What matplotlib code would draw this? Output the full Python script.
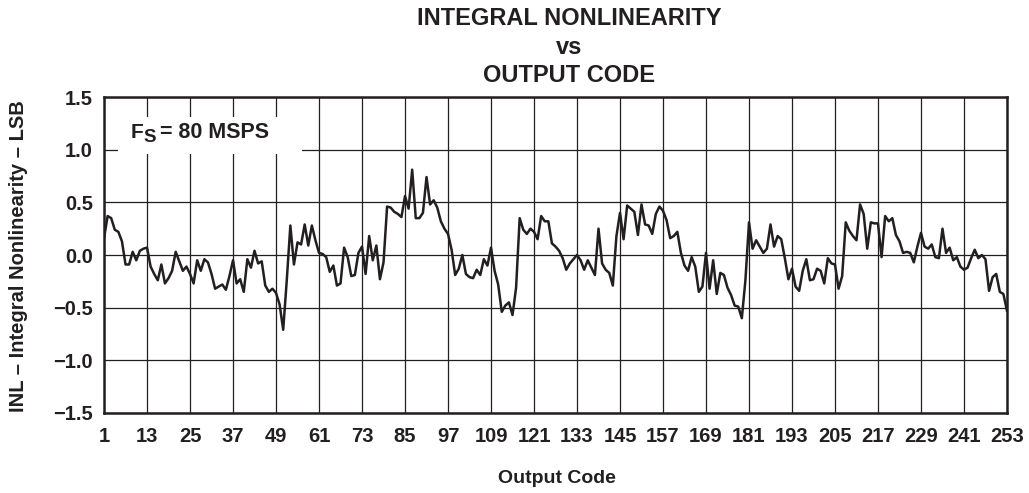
import matplotlib
matplotlib.use("Agg")
import matplotlib.pyplot as plt
from matplotlib.patches import Rectangle
import numpy as np

plt.rcParams['font.family'] = ['Liberation Sans', 'DejaVu Sans']
plt.rcParams['font.weight'] = 'bold'

# codigos de salida 1..253 y su INL (LSB)
codes = np.arange(1, 254)
inl = [
    0.16, 0.37, 0.35, 0.24, 0.22, 0.13, -0.09, -0.09, 0.03, -0.05,
    0.04, 0.06, 0.07, -0.11, -0.18, -0.24, -0.09, -0.27, -0.22, -0.15,
    0.03, -0.06, -0.15, -0.11, -0.18, -0.27, -0.05, -0.15, -0.04, -0.07,
    -0.18, -0.32, -0.30, -0.28, -0.33, -0.20, -0.05, -0.27, -0.23, -0.35,
    -0.04, -0.12, 0.04, -0.08, -0.06, -0.29, -0.35, -0.32, -0.36, -0.47,
    -0.71, -0.24, 0.28, -0.09, 0.12, 0.10, 0.29, 0.09, 0.28, 0.14,
    0.02, 0.01, -0.02, -0.16, -0.10, -0.29, -0.27, 0.07, -0.02, -0.20,
    -0.19, 0.02, 0.08, -0.18, 0.18, -0.05, 0.09, -0.23, -0.07, 0.46,
    0.45, 0.41, 0.39, 0.36, 0.56, 0.44, 0.81, 0.35, 0.35, 0.40,
    0.74, 0.48, 0.52, 0.45, 0.32, 0.25, 0.20, 0.05, -0.19, -0.13,
    0.00, -0.18, -0.21, -0.22, -0.14, -0.19, -0.04, -0.10, 0.07, -0.15,
    -0.28, -0.54, -0.48, -0.45, -0.57, -0.31, 0.35, 0.24, 0.20, 0.25,
    0.22, 0.15, 0.37, 0.32, 0.32, 0.11, 0.08, 0.04, -0.03, -0.14,
    -0.08, -0.04, 0.00, -0.05, -0.14, -0.05, -0.12, -0.19, 0.25, -0.08,
    -0.14, -0.17, -0.29, 0.18, 0.40, 0.15, 0.47, 0.44, 0.41, 0.19,
    0.48, 0.29, 0.28, 0.20, 0.39, 0.46, 0.42, 0.33, 0.16, 0.18,
    0.22, 0.02, -0.10, -0.15, -0.02, -0.11, -0.35, -0.30, 0.02, -0.32,
    -0.05, -0.37, -0.17, -0.19, -0.31, -0.38, -0.48, -0.49, -0.60, -0.24,
    0.31, 0.06, 0.14, 0.08, 0.02, 0.06, 0.29, 0.08, 0.18, 0.15,
    -0.03, -0.23, -0.13, -0.30, -0.34, -0.15, -0.04, -0.24, -0.23, -0.13,
    -0.15, -0.27, -0.03, -0.08, -0.09, -0.32, -0.20, 0.31, 0.23, 0.18,
    0.14, 0.48, 0.39, 0.06, 0.31, 0.30, 0.30, -0.02, 0.37, 0.32,
    0.35, 0.19, 0.13, 0.02, 0.03, 0.02, -0.07, 0.08, 0.21, 0.08,
    0.06, 0.10, -0.02, -0.03, 0.25, 0.02, 0.07, -0.05, -0.02, -0.11,
    -0.14, -0.12, -0.03, 0.05, -0.03, 0.00, -0.04, -0.34, -0.21, -0.18,
    -0.35, -0.37, -0.53,
]

xticks = list(range(1, 254, 12))
yticks = [-1.5, -1.0, -0.5, 0.0, 0.5, 1.0, 1.5]
ytick_labels = ["\u22121.5", "\u22121.0", "\u22120.5", "0.0", "0.5", "1.0", "1.5"]

ink = "#231f20"

fig = plt.figure(figsize=(10.29, 4.93), dpi=100)
ax = fig.add_axes([0.1011, 0.1623, 0.8775, 0.6409])

ax.plot(codes, inl, color=ink, lw=1.8, zorder=3)

ax.set_xlim(1, 253)
ax.set_ylim(-1.5, 1.5)
ax.set_xticks(xticks)
ax.set_yticks(yticks)
ax.set_yticklabels(ytick_labels)
ax.tick_params(length=0, labelsize=14.5, colors=ink)
ax.tick_params(axis="y", pad=8)
ax.tick_params(axis="x", pad=10)
for lab in ax.get_xticklabels() + ax.get_yticklabels():
    lab.set_fontweight("bold")
ax.grid(True, color=ink, lw=0.9, zorder=1)
for s in ax.spines.values():
    s.set_linewidth(1.8)
    s.set_color(ink)

# caja blanca del texto de FS
ax.add_patch(Rectangle((0.0155, 0.82), 0.2035, 0.117, transform=ax.transAxes,
                       facecolor="white", edgecolor="none", zorder=2))
ax.text(8.5, 1.114, "F", fontsize=15, fontweight="bold", zorder=4, color=ink)
ax.text(12.0, 1.073, "S", fontsize=13.5, fontweight="bold", zorder=4, color=ink)
ax.text(16.6, 1.114, "= 80 MSPS", fontsize=15.5, fontweight="bold", zorder=4, color=ink)

fig.text(0.553, 0.985, "INTEGRAL NONLINEARITY\nvs\nOUTPUT CODE", ha="center", va="top",
         fontsize=17, fontweight="bold", linespacing=1.3, color=ink)
fig.text(0.541, 0.0304, "Output Code", ha="center", va="center",
         fontsize=14, fontweight="bold", color=ink)
fig.text(0.0175, 0.481, "INL \u2013 Integral Nonlinearity \u2013 LSB", ha="center", va="center",
         rotation=90, fontsize=14.5, fontweight="bold", color=ink)

fig.savefig("out.png", dpi=100)
